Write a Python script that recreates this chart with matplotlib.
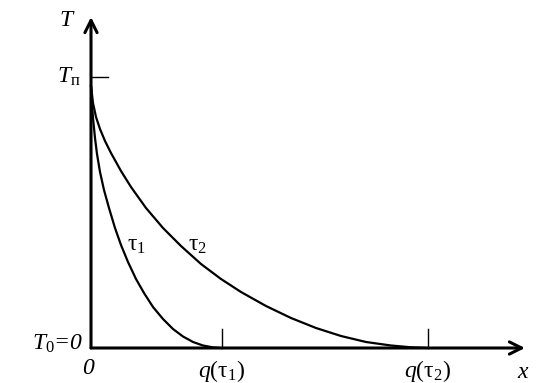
"""
Temperature profiles T(x) at two moments tau1 < tau2 (sketch recreation).
"""
import matplotlib
matplotlib.use("Agg")
import matplotlib.pyplot as plt

# profile points: x from the origin, T above the axis (px units)
x_tau1 = [0, 1, 2, 4, 6, 9, 13, 18, 24, 30, 37, 45, 53, 62, 72, 82, 92, 102, 112, 122, 130]
T_tau1 = [262, 244, 230, 210, 194, 176, 158, 140, 120, 103, 86, 69, 55, 41, 29, 19, 11.5, 6, 2.5, 0.6, 0]

x_tau2 = [0, 2, 5, 9, 14, 20, 30, 40, 55, 72, 90, 110, 130, 150, 175, 200, 225, 250, 275, 300, 320, 337]
T_tau2 = [262, 245, 231, 219, 207, 195, 177, 161, 140, 120, 102, 84, 69, 56, 42, 30, 20, 12, 6, 2.5, 0.7, 0]

T_n = 271              # level of the T_п mark
q_marks = [131, 337]   # q(tau1), q(tau2)
q_labels = [r"$q$($\mathregular{\tau_1}$)", r"$q$($\mathregular{\tau_2}$)"]

plt.rcParams["font.family"] = ["Liberation Serif", "DejaVu Serif"]
plt.rcParams["mathtext.fontset"] = "custom"
plt.rcParams["mathtext.it"] = "Liberation Serif:italic"
plt.rcParams["mathtext.rm"] = "Liberation Serif"

fig = plt.figure(figsize=(5.59, 3.83), dpi=100)
ax = fig.add_axes([0, 0, 1, 1])
ax.set_xlim(-91, 468)
ax.set_ylim(-35, 348)
ax.axis("off")

# axes with open arrow heads
ax.annotate("", xy=(434, 0), xytext=(0, 0),
            arrowprops=dict(arrowstyle="->", lw=2.2, color="black",
                            mutation_scale=22, shrinkA=0, shrinkB=0))
ax.annotate("", xy=(0, 331), xytext=(0, 0),
            arrowprops=dict(arrowstyle="->", lw=2.2, color="black",
                            mutation_scale=22, shrinkA=0, shrinkB=0))

ax.plot(x_tau1, T_tau1, color="black", lw=1.6, solid_joinstyle="round")
ax.plot(x_tau2, T_tau2, color="black", lw=1.6, solid_joinstyle="round")

# marks
ax.plot([0, 17], [T_n, T_n], color="black", lw=1)
for q in q_marks:
    ax.plot([q, q], [0, 19], color="black", lw=1)

fs = 17
ax.text(-25, 328, "T", fontsize=fs, style="italic", ha="center", va="center")
ax.text(-22, 271, r"$T_{\mathregular{п}}$", fontsize=fs, ha="center", va="center")
ax.text(-33, 4, r"$T_0$=0", fontsize=fs, style="italic", ha="center", va="center")
ax.text(-3, -21, "0", fontsize=fs, style="italic", ha="center", va="center")
for q, lab in zip(q_marks, q_labels):
    ax.text(q, -23, lab, fontsize=fs, ha="center", va="center")
ax.text(432, -24, "x", fontsize=fs, style="italic", ha="center", va="center")

ax.text(45, 103, r"$\mathregular{\tau_1}$", fontsize=fs, ha="center", va="center")
ax.text(107, 103, r"$\mathregular{\tau_2}$", fontsize=fs, ha="center", va="center")

fig.savefig("out.png", dpi=100)
